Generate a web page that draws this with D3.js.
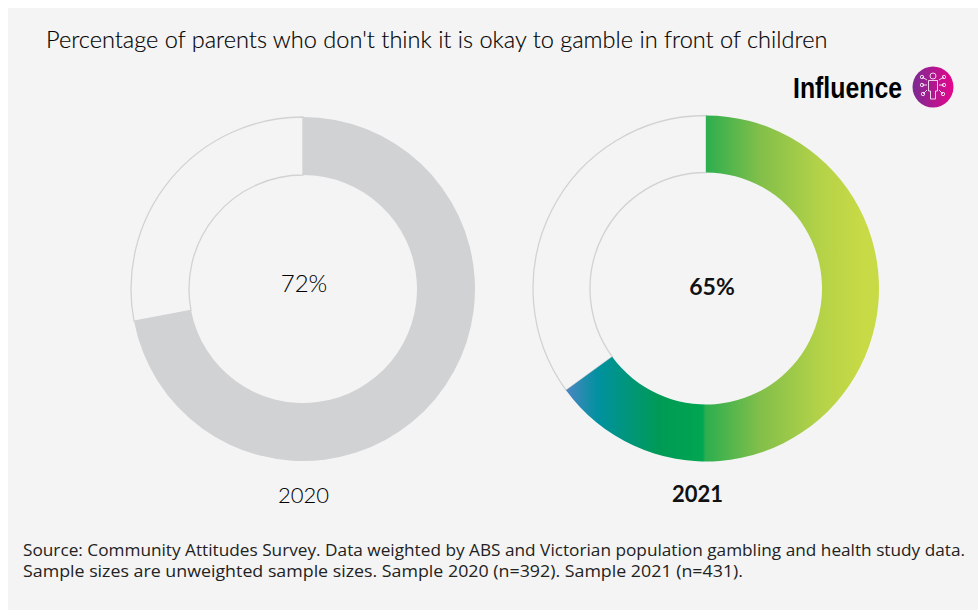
<!DOCTYPE html>
<html><head><meta charset="utf-8">
<script src="https://cdn.jsdelivr.net/npm/d3@7"></script>
<style>
html,body{margin:0;padding:0;background:#fff;}
svg{display:block;}
</style></head><body>
<div id="chart"></div>
<script>
const years = ["2020", "2021"];
const shares = [72, 65];
const centresX = [303, 706];
const centresY = [289, 288.5];
const outerRadii = [172, 173];
const innerRadii = [114, 116];
const titleText = "Percentage of parents who don't think it is okay to gamble in front of children";
const sourceLines = [
  "Source: Community Attitudes Survey. Data weighted by ABS and Victorian population gambling and health study data.",
  "Sample sizes are unweighted sample sizes. Sample 2020 (n=392). Sample 2021 (n=431)."
];
const sourceWidths = [942, 720];
const rampColours = ["#4a86c0", "#00919f", "#009a55", "#00a651", "#2bae4f", "#82bf4a", "#b4d248", "#c8da45"];
const rampOffsets = [0, 0.105, 0.315, 0.461, 0.468, 0.654, 0.857, 1];
const spokes = [[-11,-10,-6,-7],[11,-10,6,-7],[-11,-2,-6,-2],[11,-2,6,-2],[-10,7,-6,3],[10,7,6,3]];

const width = 978, height = 610;
const svg = d3.select("#chart").append("svg").attr("width", width).attr("height", height);
const defs = svg.append("defs");

// Horizontal ramp in the ring's own coordinates, from the arc's left end to its right edge
const ramp = defs.append("linearGradient").attr("id", "ramp")
  .attr("gradientUnits", "userSpaceOnUse")
  .attr("x1", -139).attr("x2", 156).attr("y1", 0).attr("y2", 0);
ramp.selectAll("stop").data(rampColours).join("stop")
  .attr("offset", (d, i) => rampOffsets[i]).attr("stop-color", d => d);

const badge = defs.append("linearGradient").attr("id", "badge");
badge.append("stop").attr("offset", 0).attr("stop-color", "#7a2a92");
badge.append("stop").attr("offset", 1).attr("stop-color", "#e5068c");

svg.append("rect").attr("x", 8).attr("y", 8).attr("width", width - 8).attr("height", height - 8).attr("fill", "#f4f4f4");

svg.append("text").attr("x", 46).attr("y", 48).attr("font-family", "Lato").attr("font-weight", 300)
  .attr("font-size", 23.55).attr("fill", "#000").attr("stroke", "#000").attr("stroke-width", 0.15).text(titleText);

// Rings: unfilled track first, then the share as an arc from twelve o'clock
const angle = d3.scaleLinear().domain([0, 100]).range([0, 2 * Math.PI]);
years.forEach((year, i) => {
  const g = svg.append("g").attr("transform", `translate(${centresX[i]},${centresY[i]})`);
  const arc = d3.arc().innerRadius(innerRadii[i]).outerRadius(outerRadii[i]);
  g.append("path")
    .attr("d", arc({ startAngle: angle(shares[i]), endAngle: angle(100) }))
    .attr("fill", "none").attr("stroke", "#d1d2d4").attr("stroke-width", 1.3);
  g.append("path")
    .attr("d", arc({ startAngle: 0, endAngle: angle(shares[i]) }))
    .attr("fill", i === 0 ? "#d1d2d4" : "url(#ramp)");
});

svg.append("text").attr("x", 304).attr("y", 292).attr("text-anchor", "middle").attr("font-family", "Lato")
  .attr("font-weight", 300).attr("font-size", 24).attr("fill", "#000").text(shares[0] + "%");
svg.append("text").attr("x", 712).attr("y", 295).attr("text-anchor", "middle").attr("font-family", "Lato")
  .attr("font-weight", 700).attr("font-size", 23).attr("fill", "#111").text(shares[1] + "%");
svg.append("text").attr("x", 303.5).attr("y", 503).attr("text-anchor", "middle").attr("font-family", "Lato")
  .attr("font-weight", 300).attr("font-size", 22).attr("fill", "#000").text(years[0]);
svg.append("text").attr("x", 697.5).attr("y", 502).attr("text-anchor", "middle").attr("font-family", "Lato")
  .attr("font-weight", 700).attr("font-size", 22).attr("fill", "#111").text(years[1]);

svg.append("g").selectAll("text").data(sourceLines).join("text")
  .attr("x", 23).attr("y", (d, i) => 556 + i * 21)
  .attr("font-family", "'Open Sans'").attr("font-size", 16.6).attr("fill", "#222")
  .attr("textLength", (d, i) => sourceWidths[i]).attr("lengthAdjust", "spacingAndGlyphs").text(d => d);

// Badge with the category name and a person-and-network glyph
svg.append("text").attr("x", 793).attr("y", 98).attr("font-family", "'Liberation Sans'")
  .attr("font-weight", 700).attr("font-size", 29.5).attr("fill", "#000")
  .attr("textLength", 109).attr("lengthAdjust", "spacingAndGlyphs").text("Influence");
const icon = svg.append("g").attr("transform", "translate(933,87)");
icon.append("circle").attr("r", 20.5).attr("fill", "url(#badge)");
const ink = icon.append("g").attr("fill", "none").attr("stroke", "#fff").attr("stroke-opacity", 0.8).attr("stroke-width", 1);
ink.append("circle").attr("cy", -11).attr("r", 3);
ink.append("path").attr("d", "M-4.5,-6.5H4.5V4H2.5V12H-2.5V4H-4.5Z");
ink.selectAll("line").data(spokes).join("line")
  .attr("x1", d => d[0]).attr("y1", d => d[1]).attr("x2", d => d[2]).attr("y2", d => d[3]);
ink.selectAll("circle.node").data(spokes).join("circle").attr("class", "node")
  .attr("cx", d => d[0]).attr("cy", d => d[1]).attr("r", 1.7);
</script>
</body></html>
